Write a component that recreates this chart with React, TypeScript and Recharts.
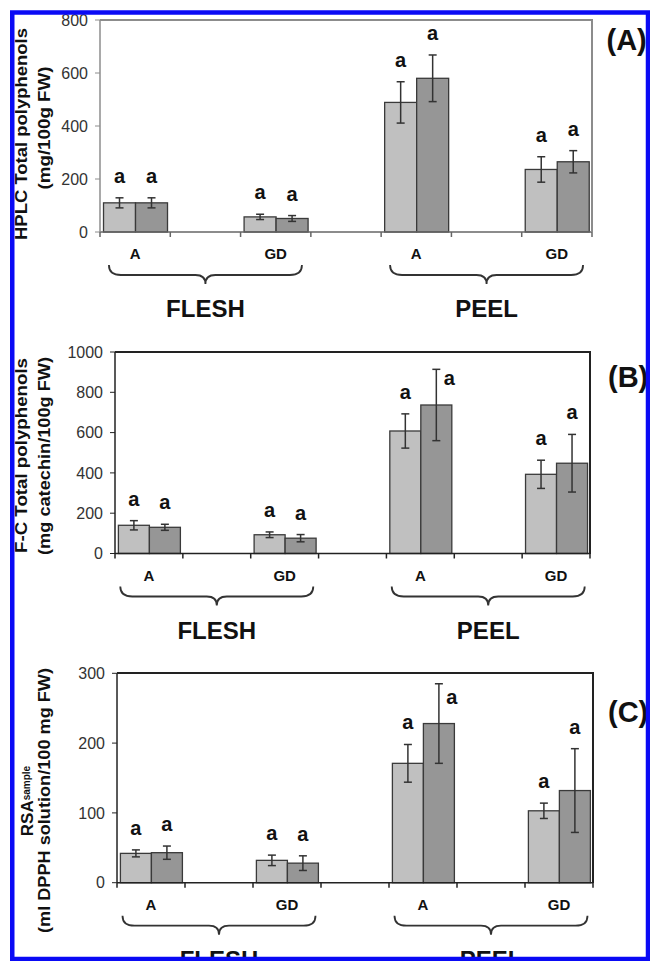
import React from "react";
import { BarChart, Bar, XAxis, YAxis, ErrorBar } from "recharts";

const FONT = '"Liberation Sans", Arial, Helvetica, sans-serif';

// x categories (each followed by an empty slot, Excel style)
const categories = ["A", "GD", "A", "GD"];
const groupNames = ["FLESH", "PEEL"];
const lightTags = ["a", "a", "a", "a"];
const darkTags = ["a", "a", "a", "a"];

// (A) HPLC total polyphenols, mg/100g FW
const hplcLight = [110, 57, 489, 236];
const hplcLightErr = [19, 10, 78, 48];
const hplcDark = [110, 51, 580, 265];
const hplcDarkErr = [19, 11, 88, 42];
const hplcTicks = [0, 200, 400, 600, 800];

// (B) F-C total polyphenols, mg catechin/100g FW
const fcLight = [140, 93, 608, 393];
const fcLightErr = [23, 14, 85, 70];
const fcDark = [130, 76, 737, 448];
const fcDarkErr = [15, 18, 177, 143];
const fcTicks = [0, 200, 400, 600, 800, 1000];

// (C) RSA sample, ml DPPH solution/100 mg FW
const rsaLight = [42, 32, 171, 103];
const rsaLightErr = [5, 7.5, 27, 11];
const rsaDark = [43, 28, 228, 132];
const rsaDarkErr = [9.5, 10.5, 57, 60];
const rsaTicks = [0, 100, 200, 300];

function buildRows(light: number[], lightErr: number[], dark: number[], darkErr: number[]) {
  const rows: any[] = [];
  categories.forEach((c, i) => {
    rows.push({
      slot: "c" + i, label: c, group: "",
      light: light[i], lightErr: lightErr[i], dark: dark[i], darkErr: darkErr[i],
      lightTag: lightTags[i], darkTag: darkTags[i],
    });
    if (i < categories.length - 1) {
      rows.push({
        slot: "g" + i, label: "", group: i % 2 === 0 ? groupNames[i / 2] : "",
        light: null, lightErr: null, dark: null, darkErr: null,
      });
    }
  });
  return rows;
}

type Panel = {
  top: number; plotTop: number; plotBottom: number; plotLeft: number; plotRight: number;
  yMax: number; ticks: number[]; frame: string; axis: string; rows: any[];
};

const panels: Panel[] = [
  { top: 0, plotTop: 20, plotBottom: 232, plotLeft: 100, plotRight: 592, yMax: 800, ticks: hplcTicks,
    frame: "#8c8c8c", axis: "#666", rows: buildRows(hplcLight, hplcLightErr, hplcDark, hplcDarkErr) },
  { top: 330, plotTop: 352, plotBottom: 553.5, plotLeft: 115, plotRight: 590, yMax: 1000, ticks: fcTicks,
    frame: "#222", axis: "#222", rows: buildRows(fcLight, fcLightErr, fcDark, fcDarkErr) },
  { top: 650, plotTop: 673.3, plotBottom: 882.7, plotLeft: 117, plotRight: 593, yMax: 300, ticks: rsaTicks,
    frame: "#222", axis: "#222", rows: buildRows(rsaLight, rsaLightErr, rsaDark, rsaDarkErr) },
];

function makeTick(p: Panel) {
  const base = p.plotBottom - p.top;
  return (props: any) => {
    const x = props.x;
    const idx = props.index ?? props.payload?.index ?? 0;
    const row = p.rows[idx];
    const L = x - 96.5, R = x + 96.5, T = base + 33, H = base + 43, K = base + 52;
    return (
      <g>
        {row && row.label && (
          <text x={x} y={base + 27} textAnchor="middle" fontFamily={FONT} fontWeight="bold" fontSize={15} fill="#111">
            {row.label}
          </text>
        )}
        {row && row.group && (
          <g>
            <path
              d={`M${L},${T} Q${L},${H} ${L + 12},${H} L${x - 10},${H} Q${x},${H} ${x},${K} Q${x},${H} ${x + 10},${H} L${R - 12},${H} Q${R},${H} ${R},${T}`}
              fill="none" stroke="#333" strokeWidth={1.8}
            />
            <text x={x} y={base + 85} textAnchor="middle" fontFamily={FONT} fontWeight="bold" fontSize={24} fill="#111">
              {row.group}
            </text>
          </g>
        )}
      </g>
    );
  };
}

function makeShape(p: Panel, valueKey: string, errKey: string, tagKey: string) {
  const plotTop = p.plotTop - p.top;
  return (props: any) => {
    const { x, y, width, height, payload, fill } = props;
    const v = payload ? payload[valueKey] : null;
    if (v == null || !height) return <g />;
    const perUnit = height / v;
    const errTop = y - (payload[errKey] || 0) * perUnit;
    const cx = x + width / 2;
    let lx = cx;
    let ly = errTop - 15;
    if (ly - 15 < plotTop) {
      lx = cx + 13;
      ly = y - 20;
    }
    return (
      <g>
        <rect x={x} y={y} width={width} height={height} fill={fill} stroke="#3a3a3a" strokeWidth={1.3} />
        <text x={lx} y={ly} textAnchor="middle" fontFamily={FONT} fontWeight="bold" fontSize={20} fill="#111">
          {payload[tagKey]}
        </text>
      </g>
    );
  };
}

function PanelChart({ p }: { p: Panel }) {
  const height = p.plotBottom - p.top + 100;
  return (
    <div style={{ position: "absolute", left: 0, top: p.top }}>
      <BarChart
        width={650}
        height={height}
        data={p.rows}
        margin={{ top: p.plotTop - p.top, right: 650 - p.plotRight, bottom: 0, left: 0 }}
        barCategoryGap="5%"
        barGap={0}
      >
        <XAxis dataKey="slot" height={100} interval={0} tickLine={false} axisLine={{ stroke: p.axis, strokeWidth: 1.5 }} tick={makeTick(p)} />
        <YAxis
          domain={[0, p.yMax]}
          ticks={p.ticks}
          width={p.plotLeft}
          tickSize={5}
          tickMargin={7}
          axisLine={{ stroke: p.frame, strokeWidth: 1.5 }}
          tickLine={{ stroke: p.frame }}
          tick={{ fontSize: 16, fill: "#333", fontFamily: FONT }}
        />
        <Bar dataKey="light" fill="#c0c0c0" isAnimationActive={false} shape={makeShape(p, "light", "lightErr", "lightTag")}>
          <ErrorBar dataKey="lightErr" width={4} stroke="#333" strokeWidth={1.5} />
        </Bar>
        <Bar dataKey="dark" fill="#969696" isAnimationActive={false} shape={makeShape(p, "dark", "darkErr", "darkTag")}>
          <ErrorBar dataKey="darkErr" width={4} stroke="#333" strokeWidth={1.5} />
        </Bar>
      </BarChart>
    </div>
  );
}

// between-category tick marks on the x axis
function TickMarks({ p }: { p: Panel }) {
  const n = p.rows.length;
  const band = (p.plotRight - p.plotLeft) / n;
  const marks = Array.from({ length: n + 1 }, (_, k) => p.plotLeft + k * band);
  return (
    <g>
      {marks.map((mx, k) => (
        <line key={k} x1={mx} x2={mx} y1={p.plotBottom} y2={p.plotBottom + 5} stroke={p.axis} strokeWidth={1.5} />
      ))}
    </g>
  );
}

const titleStyle = { fontFamily: FONT, fontWeight: "bold" as const, fill: "#111" };

export default function App() {
  return (
    <div style={{ position: "absolute", left: 0, top: 0, width: 650, height: 961, overflow: "hidden", background: "#fff" }}>
      {panels.map((p, i) => (
        <PanelChart key={i} p={p} />
      ))}
      {panels.map((p, i) => (
        <div
          key={"box" + i}
          style={{
            position: "absolute",
            left: p.plotLeft,
            top: p.plotTop - 1,
            width: p.plotRight - p.plotLeft + 1,
            height: p.plotBottom - p.plotTop + 1,
            boxSizing: "border-box",
            borderTop: `2px solid ${p.frame}`,
            borderRight: `2px solid ${p.frame}`,
            pointerEvents: "none",
          }}
        />
      ))}
      <svg width={650} height={961} style={{ position: "absolute", left: 0, top: 0, pointerEvents: "none" }}>
        {panels.map((p, i) => (
          <TickMarks key={i} p={p} />
        ))}
        <g style={titleStyle}>
          <text transform="translate(26.5,134) rotate(-90)" textAnchor="middle" fontSize={17} textLength={212} lengthAdjust="spacingAndGlyphs">
            HPLC Total polyphenols
          </text>
          <text transform="translate(49.5,128) rotate(-90)" textAnchor="middle" fontSize={17} textLength={123} lengthAdjust="spacingAndGlyphs">
            (mg/100g FW)
          </text>
          <text transform="translate(27,455.5) rotate(-90)" textAnchor="middle" fontSize={17} textLength={195} lengthAdjust="spacingAndGlyphs">
            F-C Total polyphenols
          </text>
          <text transform="translate(50,456) rotate(-90)" textAnchor="middle" fontSize={17} textLength={198} lengthAdjust="spacingAndGlyphs">
            (mg catechin/100g FW)
          </text>
          <text transform="translate(33,801) rotate(-90)" textAnchor="middle" fontSize={17}>
            RSA
            <tspan fontSize={10} dy={-3}>sample</tspan>
          </text>
          <text transform="translate(49.5,800.5) rotate(-90)" textAnchor="middle" fontSize={17} textLength={265} lengthAdjust="spacingAndGlyphs">
            (ml DPPH solution/100 mg FW)
          </text>
          <text x={606.5} y={50} fontSize={29}>(A)</text>
          <text x={608} y={387} fontSize={29}>(B)</text>
          <text x={608} y={722} fontSize={29}>(C)</text>
        </g>
        <rect x={12.25} y={12.5} width={635.75} height={946.5} fill="none" stroke="#0a0af5" strokeWidth={4.5} />
      </svg>
    </div>
  );
}
